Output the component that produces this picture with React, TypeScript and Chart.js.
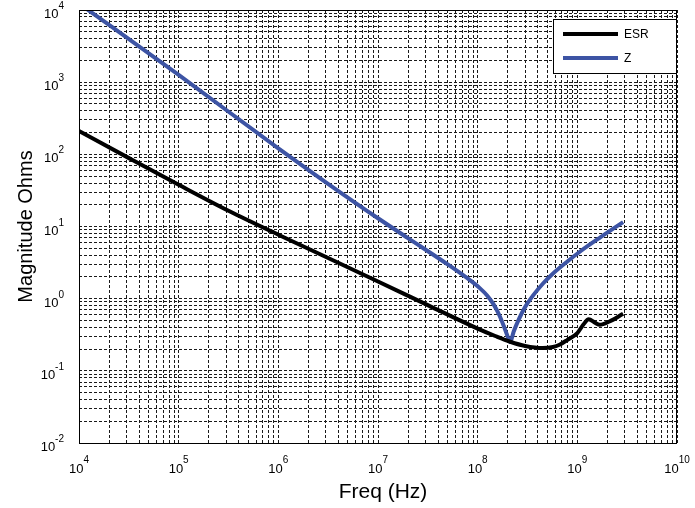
import React, { useEffect, useRef } from "react";
import { Chart, registerables } from "chart.js";

Chart.register(...registerables);

// ---- data ----
const esrFreq = [1e4, 3.17e4, 1e5, 3.2e5, 1e6, 3.16e6, 1e7, 3.16e7, 1e8, 1.5e8, 2.12e8, 3e8, 4.5e8, 5.7e8, 6.7e8, 7.9e8, 1e9, 1.15e9, 1.3e9, 1.5e9, 1.68e9, 2.1e9, 2.88e9];
const esrOhms = [210, 88.6, 37.9, 16.4, 7.7, 3.66, 1.73, 0.815, 0.385, 0.304, 0.253, 0.221, 0.207, 0.214, 0.232, 0.267, 0.334, 0.438, 0.518, 0.465, 0.434, 0.483, 0.618];

const zFreq = [1e4, 1e5, 1e6, 3e6, 1e7, 2e7, 5e7, 8e7, 1.05e8, 1.25e8, 1.45e8, 1.65e8, 1.82e8, 1.97e8, 2.12e8, 2.3e8, 2.6e8, 3e8, 3.6e8, 4.5e8, 5.5e8, 7.5e8, 1.1e9, 1.7e9, 2.88e9];
const zOhms = [12300, 1260, 121, 41, 13.0, 6.9, 2.99, 1.89, 1.40, 1.10, 0.826, 0.589, 0.424, 0.316, 0.25, 0.351, 0.526, 0.77, 1.11, 1.61, 2.13, 3.07, 4.65, 7.08, 11.5];

const seriesLabels = ["ESR", "Z"];
const seriesColors = ["#000000", "#3D54A4"];
const xTickExponents = [4, 5, 6, 7, 8, 9, 10];
const yTickExponents = [-2, -1, 0, 1, 2, 3, 4];
const xTitle = "Freq (Hz)";
const yTitle = "Magnitude Ohms";

const FONT = "'Liberation Sans', Arial, Helvetica, sans-serif";

function gridValues(exps: number[]) {
  const vals: number[] = [];
  for (let i = 0; i < exps.length - 1; i++) {
    for (let m = 1; m <= 9; m++) vals.push(m * Math.pow(10, exps[i]));
  }
  vals.push(Math.pow(10, exps[exps.length - 1]));
  return vals;
}

const decorPlugin = {
  id: "decor",
  afterDatasetsDraw(chart: any) {
    const { ctx, chartArea: a, scales } = chart;
    ctx.save();
    ctx.setLineDash([]);
    // plot box
    ctx.strokeStyle = "#000";
    ctx.lineWidth = 1;
    ctx.strokeRect(Math.round(a.left) + 0.5, Math.round(a.top) + 0.5, Math.round(a.right - a.left) - 1, Math.round(a.bottom - a.top));

    // legend
    const bx = a.right - 124;
    const by = a.top + 9;
    const bw = 123;
    const bh = 54;
    ctx.fillStyle = "#fff";
    ctx.fillRect(bx, by, bw, bh);
    ctx.strokeStyle = "#000";
    ctx.lineWidth = 1;
    ctx.strokeRect(Math.round(bx) + 0.5, Math.round(by) + 0.5, bw, bh);
    chart.data.datasets.forEach((ds: any, i: number) => {
      const y = by + 15 + i * 24;
      ctx.strokeStyle = ds.borderColor;
      ctx.lineWidth = 4;
      ctx.beginPath();
      ctx.moveTo(bx + 10, y);
      ctx.lineTo(bx + 65, y);
      ctx.stroke();
      ctx.fillStyle = "#000";
      ctx.font = `12px ${FONT}`;
      ctx.textAlign = "left";
      ctx.textBaseline = "middle";
      ctx.fillText(ds.label, bx + 71, y + 1);
    });

    // tick labels
    ctx.fillStyle = "#000";
    ctx.textBaseline = "alphabetic";
    ctx.textAlign = "left";
    const big = `13px ${FONT}`;
    const small = `10px ${FONT}`;
    xTickExponents.forEach((e) => {
      const x = scales.x.getPixelForValue(Math.pow(10, e));
      ctx.font = big;
      const w1 = ctx.measureText("10").width;
      ctx.font = small;
      const w2 = ctx.measureText(String(e)).width;
      const sx = x - (w1 + w2) / 2;
      ctx.font = big;
      ctx.fillText("10", sx, a.bottom + 30);
      ctx.font = small;
      ctx.fillText(String(e), sx + w1, a.bottom + 20);
    });
    yTickExponents.forEach((e) => {
      const y = scales.y.getPixelForValue(Math.pow(10, e));
      ctx.font = big;
      const w1 = ctx.measureText("10").width;
      ctx.font = small;
      const w2 = ctx.measureText(String(e)).width;
      const sx = a.left - 15 - (w1 + w2);
      ctx.font = big;
      ctx.fillText("10", sx, y + 8);
      ctx.font = small;
      ctx.fillText(String(e), sx + w1, y - 1);
    });

    // axis titles
    ctx.textAlign = "center";
    ctx.textBaseline = "middle";
    ctx.font = `21px ${FONT}`;
    ctx.fillText(xTitle, (a.left + a.right) / 2 + 5, a.bottom + 49);
    ctx.save();
    ctx.font = `20px ${FONT}`;
    ctx.translate(26, (a.top + a.bottom) / 2);
    ctx.rotate(-Math.PI / 2);
    ctx.fillText(yTitle, 0, 0);
    ctx.restore();

    ctx.restore();
  },
};

export default function App() {
  const canvasRef = useRef<HTMLCanvasElement | null>(null);

  useEffect(() => {
    if (!canvasRef.current) return;
    const xGrid = gridValues(xTickExponents);
    const yGrid = gridValues(yTickExponents);
    const chart = new Chart(canvasRef.current, {
      type: "line",
      data: {
        datasets: [
          {
            label: seriesLabels[0],
            data: esrFreq.map((f, i) => ({ x: f, y: esrOhms[i] })),
            borderColor: seriesColors[0],
            borderWidth: 4,
            pointRadius: 0,
            fill: false,
            cubicInterpolationMode: "monotone",
            clip: 0,
          },
          {
            label: seriesLabels[1],
            data: zFreq.map((f, i) => ({ x: f, y: zOhms[i] })),
            borderColor: seriesColors[1],
            borderWidth: 4,
            pointRadius: 0,
            fill: false,
            cubicInterpolationMode: "monotone",
            clip: 0,
          },
        ],
      },
      options: {
        responsive: false,
        animation: false,
        events: [],
        layout: { padding: { left: 79, right: 18, top: 10, bottom: 65 } },
        plugins: { legend: { display: false }, tooltip: { enabled: false }, title: { display: false } },
        scales: {
          x: {
            type: "logarithmic",
            min: 1e4,
            max: 1e10,
            afterBuildTicks: (s: any) => {
              s.ticks = xGrid.map((v) => ({ value: v }));
            },
            ticks: { display: false },
            grid: { color: "#1a1a1a", lineWidth: 1, drawTicks: false },
            border: { display: false, dash: [3, 2] },
          },
          y: {
            type: "logarithmic",
            min: 1e-2,
            max: 1e4,
            afterBuildTicks: (s: any) => {
              s.ticks = yGrid.map((v) => ({ value: v }));
            },
            ticks: { display: false },
            grid: { color: "#1a1a1a", lineWidth: 1, drawTicks: false },
            border: { display: false, dash: [3, 2] },
          },
        },
      },
      plugins: [decorPlugin],
    } as any);
    return () => chart.destroy();
  }, []);

  return (
    <div style={{ position: "absolute", left: 0, top: 0, width: 695, height: 508, background: "#fff" }}>
      <canvas ref={canvasRef} width={695} height={508} style={{ width: 695, height: 508, display: "block" }} />
    </div>
  );
}
